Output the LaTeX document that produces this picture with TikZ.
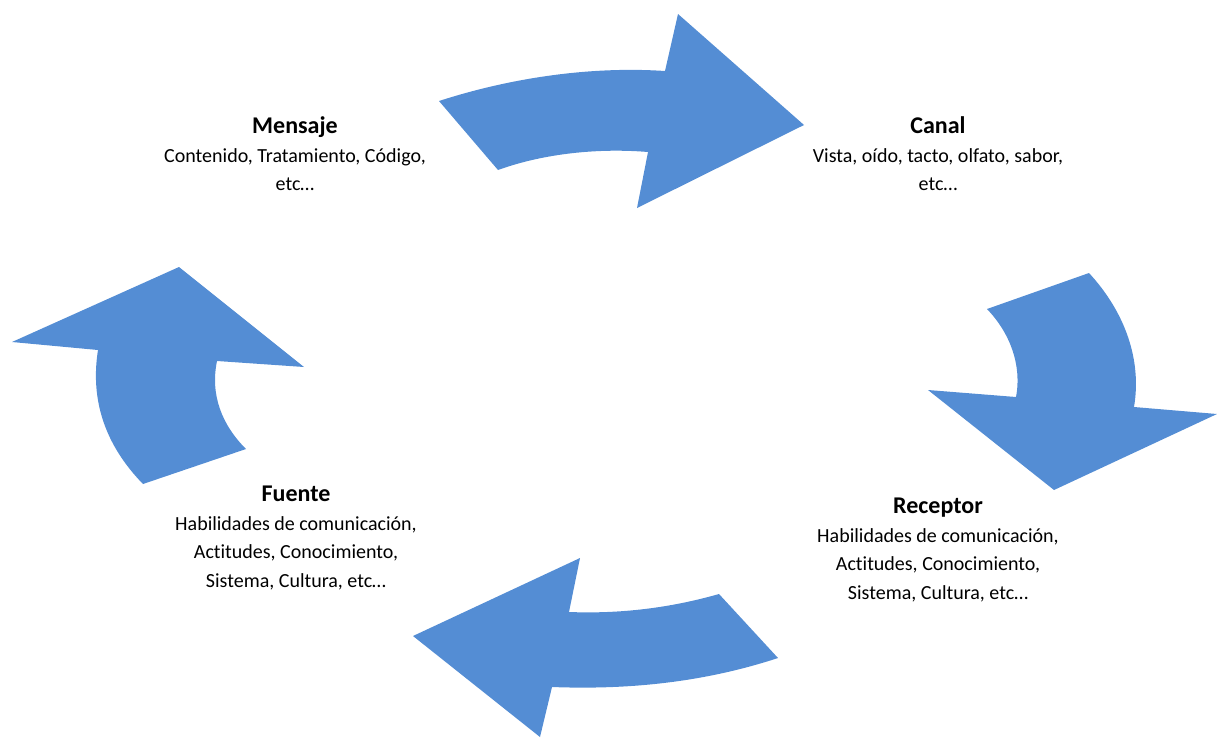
\documentclass[tikz,border=0pt]{standalone}
\usepackage{fontspec}
\setmainfont{Carlito}[Ligatures=NoCommon]
\usepackage{xcolor}
\usepackage{tikz}
\usetikzlibrary{positioning}
\definecolor{flecha}{RGB}{84,141,212}

\begin{document}
\begin{tikzpicture}[
  x=1pt, y=-1pt,
  node distance=9pt,
  flow/.style={fill=flecha, draw=none},
  title/.style={font=\fontsize{24}{28}\selectfont\bfseries, inner sep=0pt, anchor=base, text height=16pt, text depth=6pt},
  body/.style={font=\fontsize{20}{28.5}\selectfont, align=center, inner sep=0pt}
]
  \useasboundingbox (0,0) rectangle (1217,737);

  % curved arrows
  \fill[flow] (439,101) .. controls (510,78) and (590,66) .. (665,71) -- (678,14) -- (804,125)
    -- (637,208) -- (648,152) .. controls (600,148) and (545,153) .. (498,170) -- cycle;
  \fill[flow] (1089,273) .. controls (1125,312) and (1142,360) .. (1134,407) -- (1217,414)
    -- (1054,490) -- (928,390) -- (1016,397) .. controls (1022,365) and (1010,333) .. (987,309) -- cycle;
  \fill[flow] (719,594) .. controls (670,608) and (620,614) .. (569,612) -- (580,558) -- (413,636)
    -- (540,737) -- (552,687) .. controls (630,690) and (705,682) .. (778,658) -- cycle;
  \fill[flow] (143,484) .. controls (105,445) and (90,400) .. (98,350) -- (12,342) -- (179,267)
    -- (304,367) -- (217,361) .. controls (210,395) and (222,425) .. (246,449) -- cycle;

  % labels
  \node[title] (mensaje) at (295,133) {Mensaje};
  \node[body, below=of mensaje] (mensajeTxt) {Contenido, Tratamiento, Código,\\etc…};
  \node[title] (canal) at (938,133) {Canal};
  \node[body, below=of canal] (canalTxt) {Vista, oído, tacto, olfato, sabor,\\etc…};
  \node[title] (receptor) at (938,513) {Receptor};
  \node[body, below=of receptor] (receptorTxt) {Habilidades de comunicación,\\Actitudes, Conocimiento,\\Sistema, Cultura, etc…};
  \node[title] (fuente) at (296,501) {Fuente};
  \node[body, below=of fuente] (fuenteTxt) {Habilidades de comunicación,\\Actitudes, Conocimiento,\\Sistema, Cultura, etc…};
\end{tikzpicture}
\end{document}
